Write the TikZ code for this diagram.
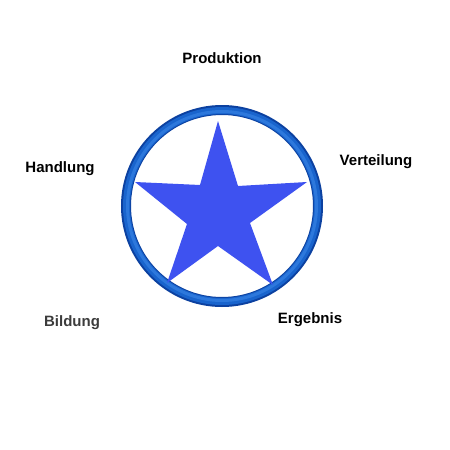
\documentclass[tikz,border=0pt]{standalone}
\usepackage{fontspec}
\setmainfont{Liberation Sans}
\definecolor{ringblue}{RGB}{25,100,205}
\definecolor{ringlight}{RGB}{45,120,220}
\definecolor{ringdark}{RGB}{12,65,160}
\definecolor{starblue}{RGB}{62,82,240}
\definecolor{labelgray}{RGB}{60,60,60}
\tikzset{
  lab/.style={font=\fontsize{15}{17}\selectfont\bfseries, text=black, inner sep=0pt},
}
\begin{document}
\begin{tikzpicture}[x=1pt,y=-1pt]
\useasboundingbox[fill=white] (0,0) rectangle (450,450);
% ring
\draw[ringdark, line width=10pt] (222,206) circle (96);
\draw[ringblue, line width=7pt] (222,206) circle (95.5);
\draw[ringlight, line width=3pt] (222,206) circle (94.5);
% star
\fill[starblue] (218,121) -- (238,186) -- (307,182) -- (250,223) -- (273,285)
  -- (218,246) -- (167,283) -- (187,224) -- (135,182) -- (200,185) -- cycle;
% labels
\node[lab] (prod) at (222,58) {Produktion};
\node[lab] (hand) at (60,169) {Handlung};
\node[lab] (vert) at (376,162) {Verteilung};
\node[lab, text=labelgray] (bild) at (72,323) {Bildung};
\node[lab] (erg) at (310,320) {Ergebnis};
\end{tikzpicture}
\end{document}
